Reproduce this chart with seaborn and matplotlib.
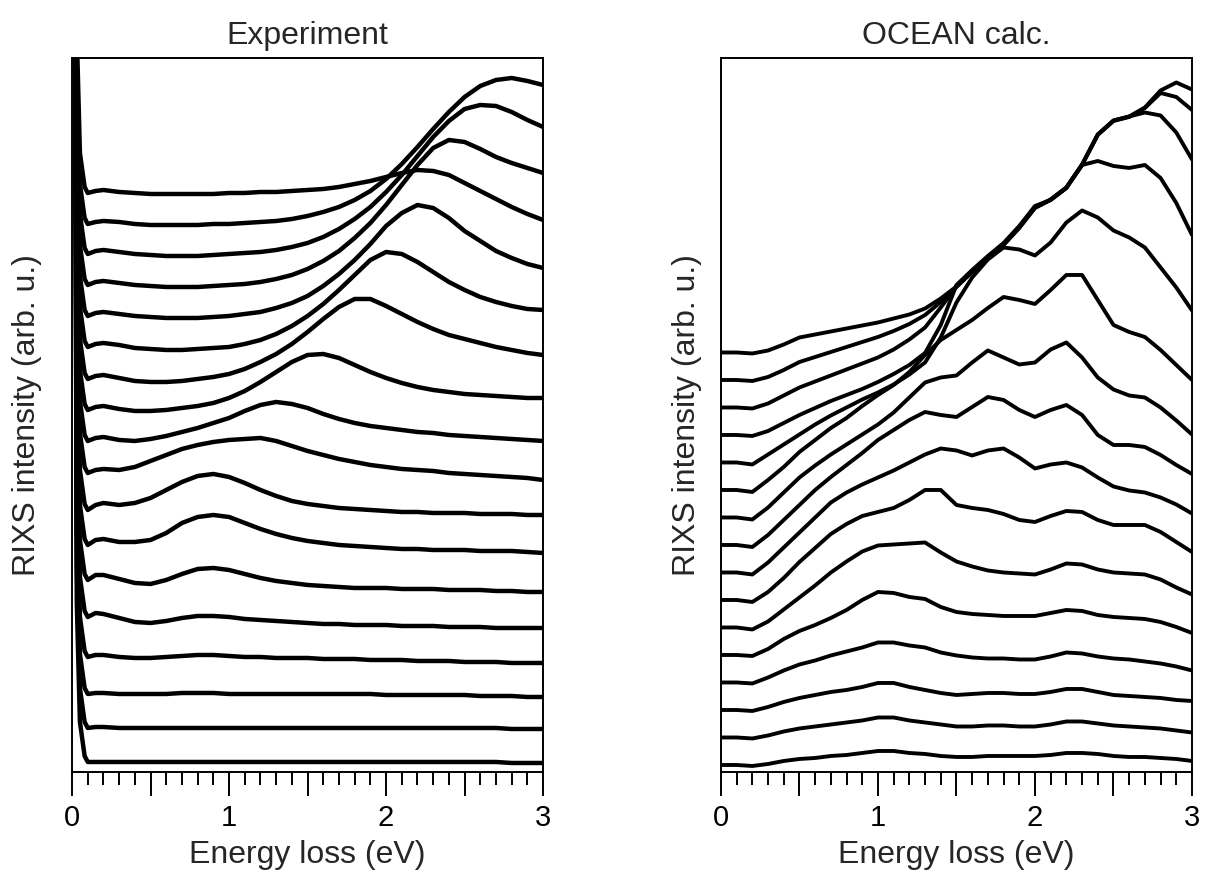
import matplotlib
matplotlib.use('Agg')
import matplotlib.pyplot as plt
from matplotlib.ticker import FixedLocator, MultipleLocator, FuncFormatter
import pandas as pd
import seaborn as sns

# --- Experiment: energy grid (eV), elastic tail + spectrum ---
EXP_ELASTIC_X = [0.0, 0.01, 0.03, 0.05, 0.08]
EXP_ELASTIC = [3000, 1200, 160, 40, 6]
EXP_X = [0.1, 0.15] + [round(0.2 + 0.1 * i, 1) for i in range(29)]
EXP_STEP = 32
EXP_BASE = [10, 12, 14, 19, 27, 32, 35, 38, 43, 43, 42, 41, 41, 40, 39, 38, 36, 35]
EXP_REL = [
    [0, 0, 0, 0, 0, 0, 0, 0, 0, 0, 0, 0, 0, 0, 0, 0, 0, 0, 0, 0, 0, 0, 0, 0, 0, 0, 0, 0, -1, -1, -1],
    [0, 1, 1, 0, 0, 0, 0, 0, 0, 0, 0, 0, 0, 0, 0, 0, 0, 0, 0, 0, 0, 0, 0, 0, 0, 0, 0, 0, -1, -1, -1],
    [0, 1, 1, 0, 0, 0, 0, 1, 1, 1, 0, 0, 0, 0, 0, 0, 0, 0, 0, 0, -1, -1, -1, -1, -1, -1, -2, -2, -2, -3, -3],
    [0, 2, 2, 0, -1, -1, 0, 1, 2, 2, 1, 0, 0, -1, -1, -1, -2, -2, -2, -3, -3, -3, -4, -4, -4, -5, -5, -5, -6, -6, -6],
    [0, 4, 3, -1, -5, -6, -4, -1, 1, 1, 0, -2, -3, -4, -5, -6, -7, -7, -8, -8, -8, -9, -9, -9, -10, -10, -10, -11, -11, -11, -11],
    [0, 5, 5, 1, -3, -4, 0, 6, 11, 12, 10, 6, 2, -1, -3, -5, -6, -7, -8, -8, -8, -9, -9, -9, -10, -10, -10, -11, -11, -12, -12],
    [0, 5, 6, 3, 3, 5, 12, 22, 28, 30, 28, 22, 16, 11, 7, 4, 2, 0, -1, -2, -3, -4, -4, -5, -5, -5, -6, -6, -6, -7, -8],
    [0, 5, 7, 5, 7, 12, 20, 28, 34, 36, 33, 27, 20, 14, 9, 6, 4, 2, 1, 0, -1, -2, -2, -3, -3, -3, -4, -4, -4, -5, -5],
    [0, 3, 4, 3, 6, 12, 18, 24, 28, 31, 33, 34, 35, 32, 27, 22, 18, 14, 11, 8, 6, 4, 3, 2, 0, -1, -2, -3, -4, -5, -7],
    [0, 3, 4, 1, 0, 2, 5, 9, 13, 18, 23, 30, 36, 39, 37, 33, 27, 22, 18, 15, 13, 11, 9, 8, 6, 5, 4, 3, 2, 1, 0],
    [0, 3, 4, 1, -1, -1, 0, 2, 4, 7, 12, 19, 28, 38, 48, 55, 56, 52, 45, 38, 32, 27, 23, 20, 18, 16, 15, 14, 13, 12, 12],
    [0, 3, 4, 1, -2, -3, -3, -2, 0, 2, 5, 10, 17, 25, 35, 47, 60, 72, 80, 80, 73, 65, 57, 50, 44, 40, 36, 32, 29, 26, 24],
    [0, 3, 4, 2, -1, -2, -3, -3, -2, -1, 0, 3, 7, 13, 21, 31, 43, 57, 72, 87, 95, 93, 85, 75, 65, 57, 50, 45, 41, 38, 37],
    [0, 3, 4, 2, 0, -1, -2, -2, -2, -1, 0, 2, 4, 8, 13, 20, 30, 42, 56, 72, 90, 103, 111, 108, 98, 85, 75, 65, 58, 52, 48],
    [0, 3, 4, 2, 0, -1, -2, -2, -2, -1, 0, 1, 3, 6, 10, 16, 24, 34, 47, 62, 80, 100, 120, 137, 145, 143, 136, 128, 122, 117, 112],
    [0, 3, 4, 2, 0, -1, -2, -2, -2, -1, 0, 1, 2, 4, 7, 11, 17, 25, 35, 47, 62, 79, 98, 117, 133, 145, 149, 148, 142, 134, 127],
    [0, 2, 3, 2, 0, -1, -1, -1, -1, 0, 0, 1, 2, 3, 5, 8, 12, 17, 24, 33, 45, 60, 77, 95, 112, 127, 138, 144, 146, 143, 139],
    [0, 2, 3, 1, 0, -1, -1, -1, -1, -1, 0, 0, 1, 1, 2, 3, 4, 6, 9, 12, 16, 20, 23, 22, 18, 10, 2, -6, -14, -21, -27],
]

# --- OCEAN calculation: energy grid (eV) and spectra above a common base ---
CALC_X = [round(0.1 * i, 1) for i in range(31)]
CALC_STEP = 27.5
CALC_BASE = 7
CALC_REL = [
    [0, 0, -1, 1, 4, 6, 7, 9, 10, 12, 14, 14, 12, 11, 9, 8, 8, 9, 9, 9, 9, 10, 12, 12, 11, 9, 8, 8, 7, 6, 4],
    [0, 0, -1, 2, 6, 9, 11, 13, 15, 17, 20, 20, 17, 15, 13, 11, 11, 12, 12, 11, 11, 13, 16, 16, 14, 12, 11, 10, 9, 7, 5],
    [0, 0, -1, 3, 8, 12, 15, 18, 20, 23, 27, 27, 23, 20, 17, 15, 16, 17, 17, 16, 16, 18, 21, 21, 18, 15, 14, 13, 12, 10, 9],
    [0, 0, -1, 5, 12, 18, 22, 27, 31, 35, 40, 40, 37, 35, 30, 27, 25, 24, 24, 23, 23, 26, 30, 29, 26, 24, 23, 21, 19, 16, 12],
    [0, 0, -1, 6, 16, 24, 30, 37, 45, 55, 63, 62, 58, 56, 48, 43, 41, 40, 39, 39, 39, 42, 45, 44, 40, 38, 37, 36, 33, 28, 22],
    [0, 0, -2, 6, 18, 30, 42, 55, 66, 76, 82, 83, 84, 85, 75, 66, 61, 57, 55, 54, 53, 58, 64, 63, 58, 55, 54, 53, 48, 40, 33],
    [0, 0, -2, 8, 22, 38, 52, 66, 76, 84, 88, 92, 100, 110, 110, 95, 92, 90, 86, 80, 78, 84, 89, 88, 80, 75, 75, 75, 68, 58, 48],
    [0, 0, -2, 10, 25, 40, 55, 70, 80, 88, 95, 102, 110, 118, 124, 122, 117, 122, 124, 115, 104, 108, 110, 105, 95, 86, 82, 80, 75, 68, 59],
    [0, 0, -2, 10, 25, 40, 55, 68, 80, 92, 105, 115, 125, 133, 130, 128, 138, 148, 145, 135, 128, 135, 140, 130, 110, 100, 100, 98, 90, 80, 71],
    [0, 0, -2, 10, 25, 40, 52, 63, 73, 83, 93, 105, 120, 135, 140, 142, 155, 167, 160, 153, 155, 168, 175, 160, 140, 128, 122, 120, 110, 97, 83],
    [0, 0, -2, 10, 23, 38, 50, 62, 72, 84, 95, 105, 118, 135, 150, 160, 170, 182, 193, 190, 186, 200, 215, 215, 190, 165, 158, 153, 140, 125, 110],
    [0, 0, -2, 8, 18, 28, 38, 47, 55, 63, 70, 78, 88, 100, 125, 160, 185, 203, 215, 213, 207, 220, 240, 252, 245, 232, 225, 215, 195, 175, 152],
    [0, 0, -1, 4, 12, 20, 27, 34, 40, 46, 53, 61, 70, 82, 110, 150, 165, 179, 192, 209, 229, 235, 247, 270, 274, 269, 267, 270, 257, 232, 200],
    [0, 0, -1, 4, 12, 20, 26, 32, 38, 44, 50, 58, 68, 80, 100, 121, 136, 150, 163, 180, 200, 208, 220, 243, 273, 287, 291, 295, 292, 275, 248],
    [0, 0, -1, 3, 10, 18, 23, 28, 33, 38, 43, 49, 56, 65, 78, 93, 108, 122, 135, 152, 172, 180, 192, 215, 245, 259, 263, 272, 287, 283, 270],
    [0, 0, -1, 2, 8, 15, 18, 21, 24, 27, 30, 34, 38, 44, 54, 66, 81, 95, 108, 125, 145, 153, 165, 188, 218, 232, 236, 245, 262, 270, 263],
]


def build_frames():
    rows = []
    for k, (base, rel) in enumerate(zip(EXP_BASE, EXP_REL)):
        xs = EXP_ELASTIC_X + EXP_X
        ys = [base + e for e in EXP_ELASTIC] + [base + r for r in rel]
        for x, y in zip(xs, ys):
            rows.append({'energy': x, 'intensity': y, 'curve': k, 'shifted': y + k * EXP_STEP})
    exp_df = pd.DataFrame(rows)

    rows = []
    for k, rel in enumerate(CALC_REL):
        for x, r in zip(CALC_X, rel):
            y = CALC_BASE + r
            rows.append({'energy': x, 'intensity': y, 'curve': k, 'shifted': y + k * CALC_STEP})
    calc_df = pd.DataFrame(rows)
    return exp_df, calc_df


def style_axis(ax, title):
    ax.set_xlim(0, 3)
    ax.set_ylim(0, 714)
    ax.set_title(title, fontsize=23, pad=10)
    ax.set_xlabel('Energy loss (eV)', fontsize=23, labelpad=6)
    ax.xaxis.set_major_locator(FixedLocator([0, 0.5, 1, 1.5, 2, 2.5, 3]))
    ax.xaxis.set_major_formatter(FuncFormatter(lambda v, p: f'{v:g}' if float(v).is_integer() else ''))
    ax.xaxis.set_minor_locator(MultipleLocator(0.1))
    ax.tick_params(axis='x', which='major', direction='out', length=17, width=1.4,
                   labelsize=21, pad=6, colors='black', bottom=True)
    ax.tick_params(axis='x', which='minor', direction='out', length=9, width=1.4,
                   colors='black', bottom=True)
    ax.tick_params(axis='y', left=False, labelleft=False)
    for sp in ax.spines.values():
        sp.set_color('black')
        sp.set_linewidth(1.4)
        sp.set_visible(True)


def main():
    sns.set_theme(style='white')
    plt.rcParams['font.family'] = ['Liberation Sans', 'DejaVu Sans']

    exp_df, calc_df = build_frames()

    fig = plt.figure(figsize=(12.05, 8.72), dpi=100)
    ax1 = fig.add_axes([0.0598, 0.1147, 0.3909, 0.8188])
    ax2 = fig.add_axes([0.5983, 0.1147, 0.3909, 0.8188])

    sns.lineplot(data=exp_df, x='energy', y='shifted', units='curve', estimator=None,
                 color='black', lw=3.2, sort=False, ax=ax1, legend=False)
    sns.lineplot(data=calc_df, x='energy', y='shifted', units='curve', estimator=None,
                 color='black', lw=2.8, sort=False, ax=ax2, legend=False)

    style_axis(ax1, 'Experiment')
    style_axis(ax2, 'OCEAN calc.')
    ax1.set_ylabel('RIXS intensity (arb. u.)', fontsize=23, labelpad=22)
    ax2.set_ylabel('RIXS intensity (arb. u.)', fontsize=23, labelpad=14)

    fig.savefig('out.png', dpi=100)
    plt.close(fig)


if __name__ == '__main__':
    main()
